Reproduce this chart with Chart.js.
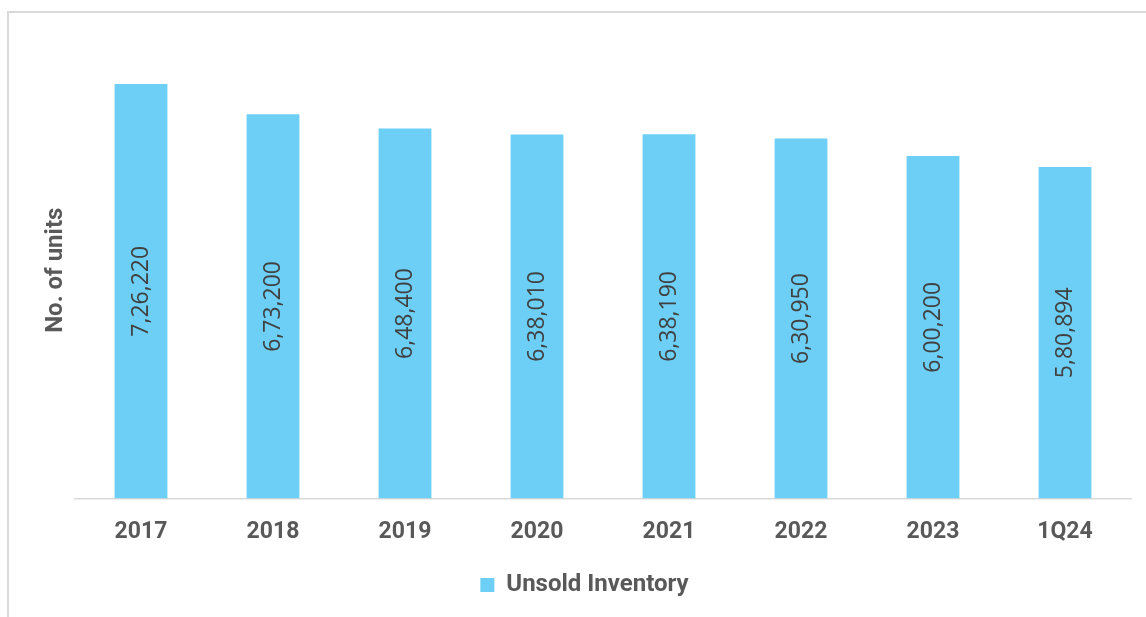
<!DOCTYPE html>
<html>
<head>
<meta charset="utf-8">
<script src="https://cdn.jsdelivr.net/npm/chart.js@4.4.1/dist/chart.umd.min.js"></script>
<style>
  html, body { margin: 0; padding: 0; background: #ffffff; }
  body { width: 1146px; height: 617px; position: relative; overflow: hidden; }
  #frame { position: absolute; left: 7px; top: 11px; width: 1200px; height: 700px;
           border-left: 2px solid #d9d9d9; border-top: 2px solid #d9d9d9; box-sizing: border-box; }
  #wrap { position: absolute; left: 0; top: 0; width: 1146px; height: 617px; }
</style>
</head>
<body>
<div id="frame"></div>
<div id="wrap"><canvas id="c" width="1146" height="617"></canvas></div>
<script>
const categories = ["2017", "2018", "2019", "2020", "2021", "2022", "2023", "1Q24"];
const unsoldInventory = [726220, 673200, 648400, 638010, 638190, 630950, 600200, 580894];
const seriesName = "Unsold Inventory";
const yAxisTitle = "No. of units";

function formatIndian(n) {
  const s = String(Math.round(n));
  if (s.length <= 3) return s;
  const last3 = s.slice(-3);
  let rest = s.slice(0, -3);
  const parts = [];
  while (rest.length > 2) { parts.unshift(rest.slice(-2)); rest = rest.slice(0, -2); }
  if (rest.length) parts.unshift(rest);
  return parts.join(",") + "," + last3;
}

const barLabelPlugin = {
  id: "barLabels",
  afterDatasetsDraw(chart) {
    const ctx = chart.ctx;
    chart.data.datasets.forEach((ds, di) => {
      const meta = chart.getDatasetMeta(di);
      meta.data.forEach((bar, i) => {
        const cx = bar.x;
        const cy = (bar.y + bar.base) / 2;
        ctx.save();
        ctx.translate(cx, cy);
        ctx.rotate(-Math.PI / 2);
        ctx.font = "23px 'Open Sans'";
        ctx.fillStyle = "#404040";
        ctx.textAlign = "center";
        ctx.textBaseline = "middle";
        ctx.fillText(formatIndian(ds.data[i]), 0, 0);
        ctx.restore();
      });
    });
  }
};

new Chart(document.getElementById("c"), {
  type: "bar",
  data: {
    labels: categories,
    datasets: [{
      label: seriesName,
      data: unsoldInventory,
      backgroundColor: "#6dcff6",
      borderWidth: 0,
      categoryPercentage: 1.0,
      barPercentage: 0.4
    }]
  },
  options: {
    responsive: false,
    animation: false,
    layout: { padding: { left: 38, right: 15, top: 42, bottom: 10 } },
    plugins: {
      legend: {
        position: "bottom",
        labels: {
          boxWidth: 14, boxHeight: 14, padding: 10,
          color: "#595959",
          font: { family: "Roboto", size: 24, weight: "bold" }
        }
      },
      tooltip: { enabled: false }
    },
    scales: {
      x: {
        grid: { display: false, drawTicks: false },
        border: { display: true, color: "#d9d9d9", width: 1.5 },
        ticks: {
          color: "#595959", padding: 20,
          font: { family: "Roboto", size: 23, weight: "bold" }
        },
        afterFit(scale) { scale.height = 64.5; }
      },
      y: {
        min: 0, max: 800000,
        grid: { display: false, drawTicks: false },
        border: { display: false },
        ticks: { display: false },
        title: {
          display: true, text: yAxisTitle, color: "#595959",
          font: { family: "Roboto", size: 24, weight: "bold" }
        },
        afterFit(scale) { scale.width = 37; }
      }
    }
  },
  plugins: [barLabelPlugin]
});
</script>
</body>
</html>
